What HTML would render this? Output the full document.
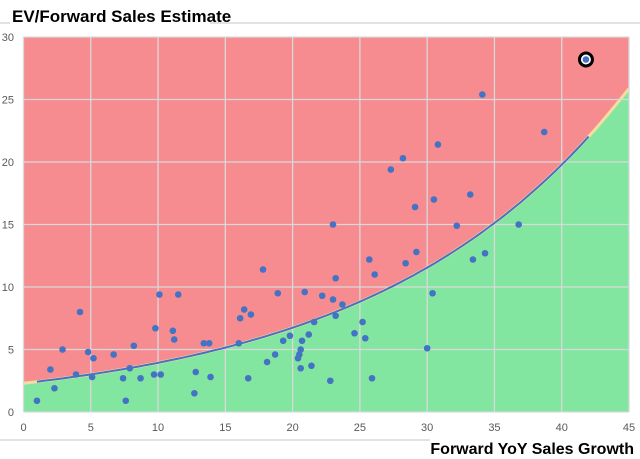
<!DOCTYPE html>
<html><head><meta charset="utf-8"><style>
body{margin:0;background:#fff;}
svg{display:block;font-family:"Liberation Sans",sans-serif;}
</style></head><body>
<svg id="chart" width="640" height="459" xmlns="http://www.w3.org/2000/svg">
<line x1="0" y1="23" x2="640" y2="23" stroke="#d9d9d9" stroke-width="1.5"/>
<rect x="10" y="2" width="200" height="26" fill="#fff"/>
<text x="12" y="22" font-size="17" font-weight="bold" font-family="Liberation Sans, sans-serif" fill="#000">EV/Forward Sales Estimate</text>
<line x1="0" y1="440" x2="640" y2="440" stroke="#d9d9d9" stroke-width="1.5"/>
<rect x="430" y="436" width="210" height="23" fill="#fff"/>
<text x="634" y="454" text-anchor="end" font-size="16" font-weight="bold" fill="#000">Forward YoY Sales Growth</text>
<g id="plot"></g>
</svg>
<script>
const xTicks=[0,5,10,15,20,25,30,35,40,45];
const yTicks=[0,5,10,15,20,25,30];
const xs=[1.0,2.0,2.3,2.9,3.9,4.2,4.8,5.1,5.2,6.7,7.4,7.6,7.9,8.2,8.7,9.7,9.8,10.1,10.2,11.1,11.2,11.5,12.7,12.8,13.4,13.8,13.9,16.0,16.1,16.4,16.7,16.9,17.8,18.1,18.7,18.9,19.3,19.8,20.4,20.5,20.6,20.6,20.7,20.9,21.2,21.4,21.6,22.2,22.8,23.0,23.0,23.2,23.2,23.7,24.6,25.2,25.4,25.7,25.9,26.1,27.3,28.2,28.4,29.1,29.2,30.0,30.4,30.5,30.8,32.2,33.2,33.4,34.1,34.3,36.8,38.7];
const ys=[0.9,3.4,1.9,5.0,3.0,8.0,4.8,2.8,4.3,4.6,2.7,0.9,3.5,5.3,2.7,3.0,6.7,9.4,3.0,6.5,5.8,9.4,1.5,3.2,5.5,5.5,2.8,5.5,7.5,8.2,2.7,7.8,11.4,4.0,4.6,9.5,5.7,6.1,4.3,4.6,5.0,3.5,5.7,9.6,6.2,3.7,7.2,9.3,2.5,9.0,15.0,10.7,7.7,8.6,6.3,7.2,5.9,12.2,2.7,11.0,19.4,20.3,11.9,16.4,12.8,5.1,9.5,17.0,21.4,14.9,17.4,12.2,25.4,12.7,15.0,22.4];
const highlight=[41.8,28.2];
const curveA=2.3, curveB=0.0538, curveEnd=42;

const X0=23.5,X1=629,Y0=412,Y1=37;
const sx=v=>X0+(v-0)/45*(X1-X0);
const sy=v=>Y0-(v/30)*(Y0-Y1);
const NS="http://www.w3.org/2000/svg";
const g=document.getElementById('plot');
function mk(t,a){const e=document.createElementNS(NS,t);for(const k in a)e.setAttribute(k,a[k]);g.appendChild(e);return e;}
const bg=mk('rect',{x:X0,y:Y1,width:X1-X0,height:Y0-Y1,fill:'#f68b90'});


const f=x=>curveA*Math.exp(curveB*x);
let pts=[];for(let x=0;x<=45.001;x+=0.5)pts.push(sx(x).toFixed(1)+','+sy(f(x)).toFixed(1));
const green=mk('polygon',{points:sx(0)+','+Y0+' '+pts.join(' ')+' '+sx(45)+','+Y0,fill:'#82e6a0'});


const bd=mk('polyline',{points:pts.join(' '),fill:'none',stroke:'#f5dca0','stroke-width':3});


xTicks.forEach(t=>{
 const l=mk('line',{x1:sx(t),x2:sx(t),y1:Y1,y2:Y0,stroke:'#d9d9d9','stroke-width':1.3});
 
 
 const tx=mk('text',{x:sx(t),y:431,'text-anchor':'middle','font-size':11,fill:'#595959'});tx.textContent=t;
 
 
});
yTicks.forEach(t=>{
 const l=mk('line',{x1:X0,x2:X1,y1:sy(t),y2:sy(t),stroke:'#d9d9d9','stroke-width':1.3});
 
 
 const tx=mk('text',{x:14,y:sy(t)+4,'text-anchor':'end','font-size':11,fill:'#595959'});tx.textContent=t;
 
 
});
let cp=[];for(let x=1;x<=curveEnd+0.001;x+=0.5)cp.push(sx(x).toFixed(1)+','+sy(f(x)).toFixed(1));
const cl=mk('polyline',{points:cp.join(' '),fill:'none',stroke:'#4472c4','stroke-width':2});


xs.forEach((x,i)=>{
 const c=mk('circle',{cx:sx(x),cy:sy(ys[i]),r:3.3,fill:'#4472c4'});
 
 
});
const hc=mk('circle',{cx:sx(highlight[0]),cy:sy(highlight[1]),r:6.5,fill:'#fff',stroke:'#000','stroke-width':3});


const hp=mk('circle',{cx:sx(highlight[0]),cy:sy(highlight[1]),r:3.3,fill:'#4472c4'});


</script>
</body></html>
